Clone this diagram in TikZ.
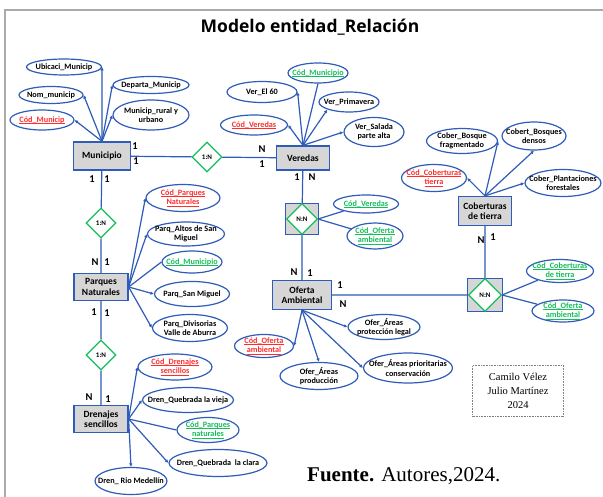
\documentclass[tikz,border=0pt]{standalone}
\usepackage{fontspec}
\setmainfont{Carlito}
\newfontfamily\titlefont{Open Sans}
\newfontfamily\autorfont{Liberation Serif}
\usepackage{xcolor}
\usepackage{tikz}
\usetikzlibrary{shapes.geometric}
\usetikzlibrary{arrows.meta}

\definecolor{erblue}{RGB}{46,92,184}
\definecolor{ergreen}{RGB}{20,190,90}
\definecolor{erred}{RGB}{255,45,45}
\definecolor{entgray}{RGB}{214,214,214}
\definecolor{framegray}{RGB}{170,170,170}

\newcommand{\ulinea}[1]{\setbox0\hbox{#1}\rlap{\rule[-1.3pt]{\wd0}{0.6pt}}\box0}
\newcommand{\pk}[1]{\textcolor{erred}{\ulinea{#1}}}
\newcommand{\fk}[1]{\textcolor{ergreen}{\ulinea{#1}}}

\begin{document}
\begin{tikzpicture}[
  x=1pt, y=-1pt,
  ent/.style 2 args={draw=erblue, fill=entgray, line width=1.3pt, inner sep=0pt,
    minimum width=#1pt, minimum height=#2pt, align=center,
    font=\bfseries\fontsize{9.5}{10.5}\selectfont},
  rel/.style={diamond, draw=ergreen, fill=white, line width=1.2pt, inner sep=0pt,
    minimum width=30pt, minimum height=30pt, font=\bfseries\fontsize{7}{8}\selectfont},
  relbox/.style 2 args={draw=erblue, fill=entgray, line width=1.3pt,
    minimum width=#1pt, minimum height=#2pt},
  attr/.style 2 args={ellipse, draw=erblue, fill=white, line width=1.2pt,
    inner xsep=-8pt, inner ysep=-4pt, minimum width=#1pt, minimum height=#2pt,
    align=center, font=\bfseries\fontsize{8.2}{9.2}\selectfont},
  lnk/.style={draw=erblue, line width=1.2pt},
  arr/.style={lnk, -{Latex[length=3.5pt,width=3.5pt]}},
  card/.style={inner sep=0pt, font=\bfseries\fontsize{10.5}{11}\selectfont},
]
\useasboundingbox (0,0) rectangle (603,497);
\fill[white] (0,0) rectangle (603,497);
\draw[framegray, line width=2pt] (5,497) -- (5,10) -- (603,10);

\node[font=\titlefont\bfseries\fontsize{17.5}{20}\selectfont] (titulo) at (310,27) {Modelo entidad\_Relación};

\node[ent={57}{28}] (muni) at (102,156) {Municipio};
\node[ent={53}{24}] (ver) at (303,158) {Veredas};
\node[ent={53}{29}] (cob) at (485,211) {Coberturas\\de tierra};
\node[ent={54}{27}] (parq) at (101,287) {Parques\\Naturales};
\node[ent={54}{27}] (dren) at (101,419) {Drenajes\\sencillos};
\node[ent={59}{29}] (ofer) at (302,295) {Oferta\\Ambiental};

\node[rel] (r1) at (207,157) {1:N};
\node[rel] (r2) at (101,223) {1:N};
\node[rel] (r3) at (101,355) {1:N};
\node[relbox={33}{31}] (b4) at (302,219) {};
\node[rel, minimum width=31pt, minimum height=31pt] (r4) at (b4) {N:N};
\node[relbox={35}{33}] (b5) at (485,295) {};
\node[rel, minimum width=33pt, minimum height=33pt] (r5) at (b5) {N:N};

\draw[lnk] (muni) -- (r1) -- (ver);
\draw[lnk] (ver) -- (b4) -- (ofer) -- (b5) -- (cob);
\draw[lnk] (muni) -- (r2) -- (parq) -- (r3) -- (dren);

\node[attr={75}{16}] (ubic) at (64,67) {Ubicaci\_Municip};
\node[attr={64}{17}] (nom) at (51,95) {Nom\_municip};
\node[attr={64}{20}] (codm) at (42,120) {\pk{Cód\_Municip}};
\node[attr={76}{17}] (dep) at (151,85) {Departa\_Municip};
\node[attr={76}{30}] (rur) at (151,115) {Municip\_rural y\\urbano};
\draw[arr] (muni.north) -- (ubic.east);
\draw[arr] (muni.north) -- (nom.east);
\draw[arr] (muni.north) -- (codm.east);
\draw[arr] (muni.north) -- (dep.west);
\draw[arr] (muni.north) -- (rur.west);

\node[attr={60}{20}] (vcodm) at (318,73) {\fk{Cód\_Municipio}};
\node[attr={70}{21}] (v60) at (262,92) {Ver\_El 60};
\node[attr={60}{20}] (vpri) at (349,102) {Ver\_Primavera};
\node[attr={67}{20}] (vcod) at (254,125) {\pk{Cód\_Veredas}};
\node[attr={60}{29}] (vsal) at (374,132) {Ver\_Salada\\parte alta};
\draw[lnk] (ver.north) -- (vcodm.south);
\draw[arr] (ver.north) -- (v60.east);
\draw[arr] (ver.north) -- (vpri.south west);
\draw[arr] (ver.north) -- (vcod.east);
\draw[arr] (ver.north) -- (vsal.west);

\node[attr={71}{25}] (cfrag) at (462,141) {Cober\_Bosque\\fragmentado};
\node[attr={64}{28}] (cdens) at (534,136) {Cobert\_Bosques\\densos};
\node[attr={65}{27}] (ccod) at (434,178) {\pk{Cód\_Coberturas}\\\pk{tierra}};
\node[attr={76}{27}] (cplan) at (563,183) {Cober\_Plantaciones\\forestales};
\draw[arr] (cob.north) -- (cfrag.east);
\draw[arr] (cob.north) -- (cdens.south);
\draw[arr] (cob.north) -- (ccod.east);
\draw[arr] (cob.north) -- (cplan.west);

\node[attr={65}{18}] (nver) at (366,204) {\fk{Cód\_Veredas}};
\node[attr={56}{26}] (nofe) at (375,236) {\fk{Cód\_Oferta}\\\fk{ambiental}};
\draw[lnk] (r4.east) -- (nver);
\draw[lnk] (r4.east) -- (nofe);

\node[attr={67}{23}] (ncob) at (560,271) {\fk{Cód\_Coberturas}\\\fk{de tierra}};
\node[attr={62}{22}] (nofe2) at (563,311) {\fk{Cód\_Oferta}\\\fk{ambiental}};
\draw[lnk] (r5.east) -- (ncob);
\draw[lnk] (r5.east) -- (nofe2);

\node[attr={59}{23}] (ocod) at (264,346) {\pk{Cód\_Oferta}\\\pk{ambiental}};
\node[attr={78}{27}] (oprod) at (319,376) {Ofer\_Áreas\\producción};
\node[attr={72}{25}] (oleg) at (384,327) {Ofer\_Áreas\\protección legal};
\node[attr={89}{30}] (oprio) at (408,368) {Ofer\_Áreas prioritarias\\conservación};
\draw[arr] (ofer.south) -- (ocod.east);
\draw[arr] (ofer.south) -- (oprod.north);
\draw[arr] (ofer.south) -- (oleg.west);
\draw[arr] (ofer.south) -- (oprio.west);

\node[attr={74}{27}] (pcod) at (183,198) {\pk{Cód\_Parques}\\\pk{Naturales}};
\node[attr={77}{24}] (palt) at (186,234) {Parq\_Altos de San\\Miguel};
\node[attr={60}{22}] (pmun) at (192,262) {\fk{Cód\_Municipio}};
\node[attr={75}{25}] (psan) at (192,294) {Parq\_San Miguel};
\node[attr={75}{27}] (pdiv) at (190,328) {Parq\_Divisorias\\Valle de Aburra};
\draw[arr] (parq.east) -- (pcod.west);
\draw[arr] (parq.east) -- (palt.west);
\draw[lnk] (parq.east) -- (pmun.west);
\draw[arr] (parq.east) -- (psan.west);
\draw[arr] (parq.east) -- (pdiv.west);

\node[attr={74}{26}] (dcod) at (175,367) {\pk{Cód\_Drenajes}\\\pk{sencillos}};
\node[attr={89}{25}] (dvie) at (188,400) {Dren\_Quebrada la vieja};
\node[attr={62}{25}] (dpar) at (208,430) {\fk{Cód\_Parques}\\\fk{naturales}};
\node[attr={98}{27}] (dcla) at (218,463) {Dren\_Quebrada\ \ la clara};
\node[attr={72}{27}] (drio) at (131,481) {Dren\_ Rio Medellín};
\draw[arr] (dren.east) -- (dcod.west);
\draw[arr] (dren.east) -- (dvie.west);
\draw[lnk] (dren.east) -- (dpar.west);
\draw[arr] (dren.east) -- (dcla.west);
\draw[arr] (dren.east) -- (drio.north);

\foreach \cx/\cy/\ct [count=\i] in {135/146/1, 136/161/1, 262/149/N, 262/164/1,
    297/177/1, 312/177/N, 294/272/N, 310/273/1, 340/285/1, 343/304/N,
    481/240/N, 493/237/1, 92/179/1, 107/179/1, 95/262/N, 107/262/1,
    94/312/1, 107/313/1, 89/397/N, 108/399/1}
  \node[card] (card\i) at (\cx,\cy) {\ct};

\node[draw=gray, densely dotted, line width=0.6pt, minimum width=91pt, minimum height=51pt,
  align=center, font=\autorfont\fontsize{10.5}{14}\selectfont] (autor) at (518,391)
  {Camilo Vélez\\Julio Martínez\\2024};
\node[anchor=base west, inner sep=0pt, font=\autorfont\fontsize{21}{24}\selectfont]
  (fuente) at (307,481) {\textbf{Fuente.} Autores,2024.};
\end{tikzpicture}
\end{document}
